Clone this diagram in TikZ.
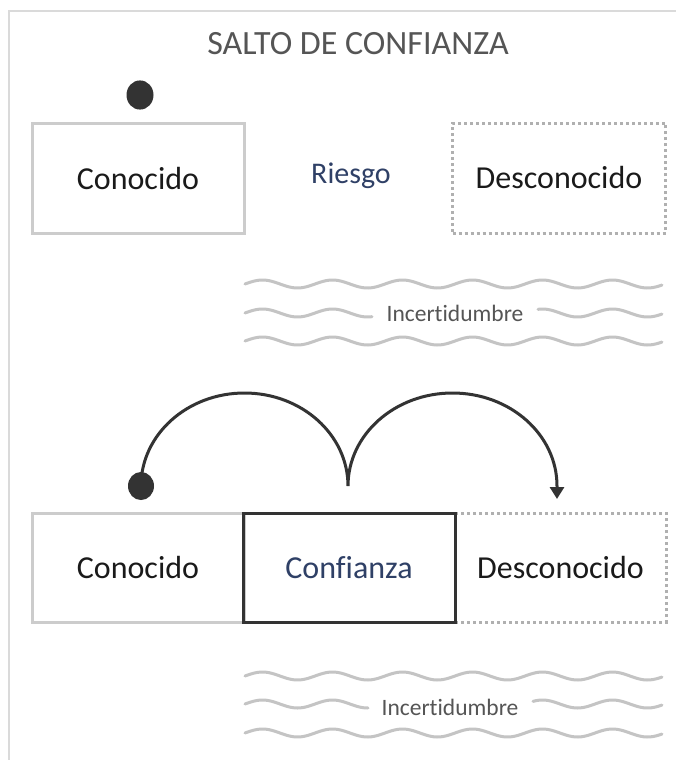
\documentclass[tikz,border=0pt]{standalone}
\usepackage{fontspec}
\setmainfont{Carlito}[Ligatures={NoCommon}]
\usetikzlibrary{arrows.meta}
\definecolor{framegray}{HTML}{DADADA}
\definecolor{boxgray}{HTML}{CCCCCC}
\definecolor{dotgray}{HTML}{B0B0B0}
\definecolor{wavegray}{HTML}{C4C4C4}
\definecolor{textgray}{HTML}{555555}
\definecolor{navy}{HTML}{2F4066}
\definecolor{ink}{HTML}{1A1A1A}
\definecolor{dark}{HTML}{333333}
\tikzset{
  knownbox/.style={draw=boxgray, line width=3pt, minimum width=212pt, minimum height=110pt, text=ink, font=\fontsize{32}{38}\selectfont},
  unknownbox/.style={draw=dotgray, line width=3pt, dash pattern=on 3pt off 3pt, minimum width=213pt, minimum height=110pt, text=ink, font=\fontsize{32}{38}\selectfont},
  trustbox/.style={draw=dark, line width=3pt, minimum width=212pt, minimum height=109pt, text=navy, font=\fontsize{32}{38}\selectfont},
  wave/.style={draw=wavegray, line width=3pt, line cap=round},
  uncert/.style={text=textgray, font=\fontsize{23.5}{28}\selectfont, inner sep=0pt},
  jump/.style={draw=dark, line width=3pt, -{Triangle[length=12pt,width=14pt]}},
}
\begin{document}
\begin{tikzpicture}[x=1pt,y=1pt]
\useasboundingbox (0,0) rectangle (676,-760);
\fill[white] (0,0) rectangle (676,-760);
% frame
\draw[framegray, line width=2pt] (676,-11) -- (9,-11) -- (9,-760);
% title
\node[text=textgray, font=\fontsize{34}{40}\selectfont] (title) at (358,-44) {SALTO DE CONFIANZA};
% top row
\node[fill=dark, circle, inner sep=0pt, minimum size=27pt, yscale=1.08] (dot1) at (140,-95) {};
\node[knownbox] (k1) at (138,-178) {Conocido};
\node[text=navy, font=\fontsize{30}{36}\selectfont] (risk) at (351,-176) {Riesgo};
\node[unknownbox] (u1) at (559,-178) {Desconocido};
% top waves
\draw[wave] plot[domain=245:662, samples=140] (\x, {-284 + 4*sin(5.142857*(\x-245))});
\draw[wave] plot[domain=245:372, samples=50] (\x, {-313 + 4*sin(5.142857*(\x-245))});
\draw[wave] plot[domain=538:662, samples=50] (\x, {-313 + 4*sin(5.142857*(\x-245))});
\draw[wave] plot[domain=245:662, samples=140] (\x, {-341 + 4*sin(5.142857*(\x-245))});
\node[uncert] (inc1) at (455,-313) {Incertidumbre};
% bottom row
\node[knownbox, minimum height=109pt] (k2) at (138,-567.5) {Conocido};
\node[unknownbox, minimum width=211pt, minimum height=109pt] (u2) at (560.5,-567.5) {Desconocido};
\node[trustbox] (t2) at (349,-567.5) {Confianza};
% jump
\node[fill=dark, circle, inner sep=0pt, minimum size=26pt, yscale=1.08] (dot2) at (141,-486) {};
\coordinate (tip) at (557,-499);
\draw[jump] (dot2.center) arc[start angle=180, end angle=0, x radius=103.5, y radius=93] coordinate (cusp)
  arc[start angle=180, end angle=0, x radius=104.5, y radius=93] -- (tip);
% bottom waves
\draw[wave] plot[domain=245:662, samples=140] (\x, {-676 + 4*sin(5.142857*(\x-245))});
\draw[wave] plot[domain=245:368, samples=50] (\x, {-704 + 4*sin(5.142857*(\x-245))});
\draw[wave] plot[domain=533:662, samples=50] (\x, {-704 + 4*sin(5.142857*(\x-245))});
\draw[wave] plot[domain=245:662, samples=140] (\x, {-733 + 4*sin(5.142857*(\x-245))});
\node[uncert] (inc2) at (450,-707) {Incertidumbre};
\end{tikzpicture}
\end{document}
